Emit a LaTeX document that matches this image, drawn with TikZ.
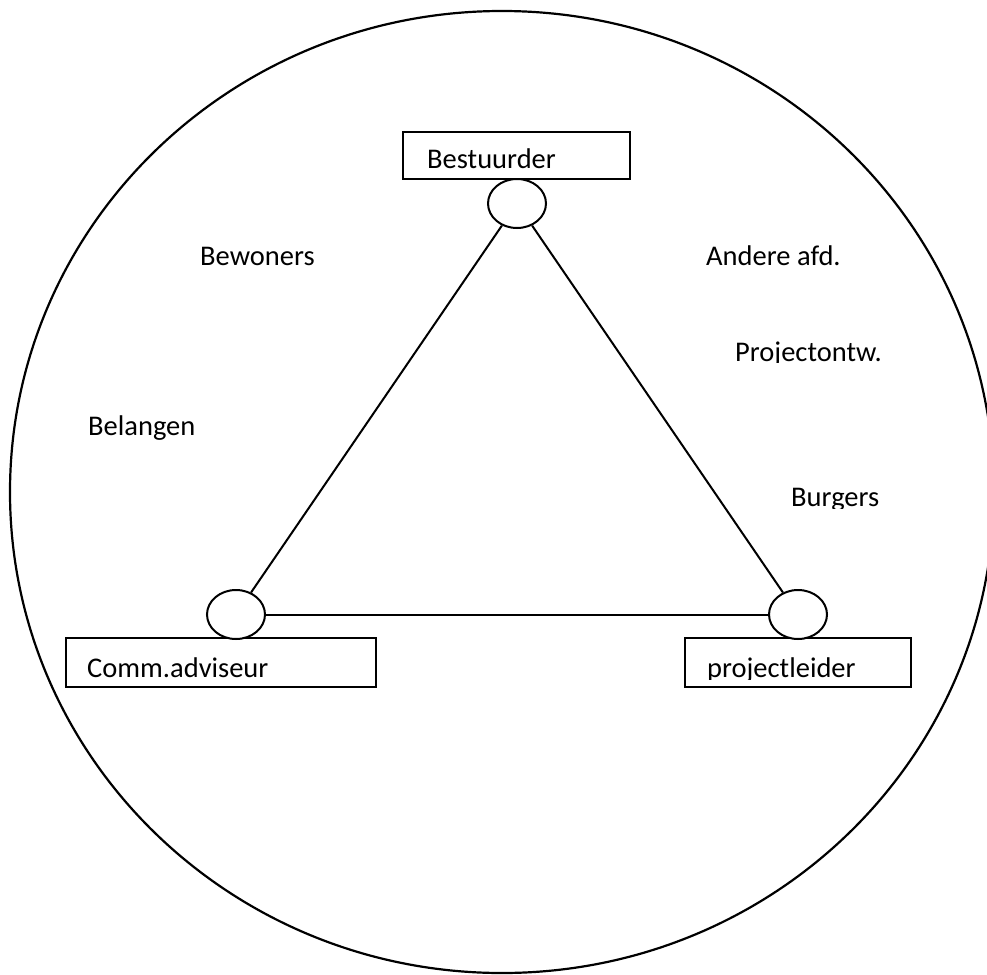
\documentclass[tikz,border=0pt]{standalone}
\usepackage{fontspec}
\setmainfont{Carlito}
\usetikzlibrary{shapes.geometric}
\tikzset{
  lbl/.style={anchor=base west, inner sep=0pt, font=\fontsize{28.5}{34}\selectfont},
  rolebox/.style={draw, line width=2pt, inner sep=0pt},
  joint/.style={draw, ellipse, line width=2pt, minimum width=58pt, minimum height=49pt, inner sep=0pt, fill=white},
  link/.style={line width=2pt},
  rim/.style={line width=2.2pt},
}
\begin{document}
\begin{tikzpicture}[x=1pt,y=-1pt]
\useasboundingbox (0,0) rectangle (987,974);
\clip (0,0) rectangle (987,974);
% outer circle
\draw[rim] (502,492) ellipse [x radius=492, y radius=481];
% role boxes
\node[rolebox, minimum width=227pt, minimum height=47pt] (bbox) at (516.5,155.5) {};
\node[rolebox, minimum width=310pt, minimum height=49pt] (cbox) at (221,662.5) {};
\node[rolebox, minimum width=226pt, minimum height=49pt] (pbox) at (798,662.5) {};
% box texts
\node[lbl] (tb) at (427,168) {Bestuurder};
\node[lbl] (tc) at (87,677) {Comm.adviseur};
\begin{scope}
  \clip (690,640) rectangle (905,679);
  \node[lbl] (tp) at (707,677) {projectleider};
\end{scope}
% joints
\node[joint] (jt) at (517,203.5) {};
\node[joint] (jl) at (236,614.5) {};
\node[joint] (jr) at (798,614.5) {};
% triangle
\draw[link] (jt) -- (jl);
\draw[link] (jt) -- (jr);
\draw[link] (jl) -- (jr);
% free labels
\node[lbl] (bew) at (200,265) {Bewoners};
\node[lbl] (and) at (706,265) {Andere afd.};
\node[lbl] (bel) at (88,435) {Belangen};
\begin{scope}
  \clip (720,300) rectangle (900,362.5);
  \node[lbl] (pro) at (735,361) {Projectontw.};
\end{scope}
\begin{scope}
  \clip (780,460) rectangle (900,508);
  \node[lbl] (bur) at (791,506) {Burgers};
\end{scope}
\end{tikzpicture}
\end{document}
